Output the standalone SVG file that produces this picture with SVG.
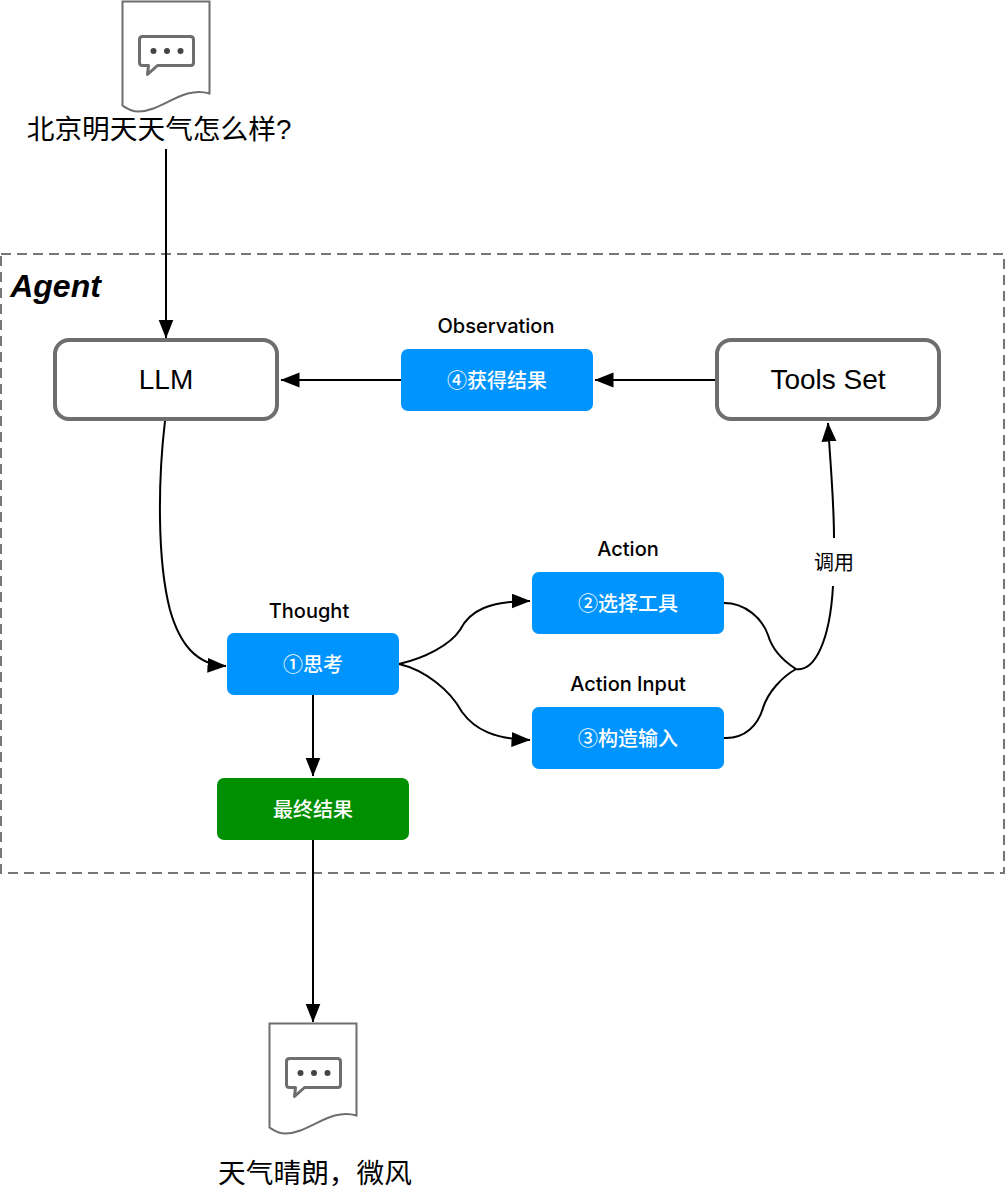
<svg xmlns="http://www.w3.org/2000/svg" width="1006" height="1194" viewBox="0 0 1006 1194">
<style>
text{font-family:"Liberation Sans","Noto Sans CJK SC",sans-serif;text-anchor:middle;fill:#000}
.big{font-size:27.700px}
.mid{font-size:28px}
.lab{font-family:Inter,"Liberation Sans",sans-serif;font-size:20px;font-weight:500}
.w{font-size:20px;fill:#fff;font-weight:500}
.c{fill:none;stroke:#000;stroke-width:2}
.n{fill:#fff;stroke:#6e6e6e;stroke-width:4}
.b{fill:#0094ff}
.doc{fill:#fff;stroke:#6e6e6e;stroke-width:2}
.ic{fill:none;stroke:#6e6e6e;stroke-width:3;stroke-linejoin:round}
.d{fill:#444}
</style>
<defs>
<marker id="a" markerUnits="userSpaceOnUse" markerWidth="20" markerHeight="16" refX="18.500" refY="7.500" orient="auto"><path d="M0 0L19 7.500L0 15z" fill="#000"/></marker>
<g id="docshape">
<path class="doc" d="M0 0H87V92C60 84 40 110 16 110C8 110 3 106 0 104Z"/>
<path class="ic" d="M20 35H68Q71 35 71 38V61Q71 64 68 64H35L25 73L26 64H20Q17 64 17 61V38Q17 35 20 35Z"/>
<circle class="d" cx="31" cy="49.500" r="3"/><circle class="d" cx="44.500" cy="49.500" r="3"/><circle class="d" cx="58" cy="49.500" r="3"/>
</g>
</defs>
<rect id="agent" x="1" y="254" width="1003" height="619" fill="none" stroke="#777" stroke-width="2" stroke-dasharray="10 6"/>
<text x="55.500" y="296.500" font-size="32" font-weight="bold" font-style="italic">Agent</text>
<g id="connectors">
<path class="c" marker-end="url(#a)" d="M166 149V338"/>
<path class="c" marker-end="url(#a)" d="M401 380H281"/>
<path class="c" marker-end="url(#a)" d="M716 380H595"/>
<path class="c" marker-end="url(#a)" d="M165 421C158 480 157 560 170 610C180 645 197 665 226 666"/>
<path class="c" marker-end="url(#a)" d="M399 664C425 658 450 645 460 630C470 610 490 601 530 601"/>
<path class="c" marker-end="url(#a)" d="M399 664C425 670 450 690 462 712C475 730 495 739 530 740"/>
<path class="c" marker-end="url(#a)" d="M313 695V776"/>
<path class="c" marker-end="url(#a)" d="M313 840V1022"/>
<path class="c" d="M724 603C745 603 762 618 768 635C773 652 785 662 796 669C815 672 830 640 833 586"/>
<path class="c" d="M724 738C745 739 758 725 763 708C768 692 782 677 796 669"/>
<path class="c" marker-end="url(#a)" d="M834 538C834 500 830 460 828 423"/>
</g>
<g id="doc-top"><use href="#docshape" x="122.500" y="1.500"/><text class="big" x="159" y="139">北京明天天气怎么样?</text></g>
<g id="llm"><rect class="n" x="55" y="340" width="222" height="79" rx="14"/><text class="mid" x="166" y="389">LLM</text></g>
<g id="tools"><rect class="n" x="717" y="340" width="222" height="79" rx="14"/><text class="mid" x="828" y="389">Tools Set</text></g>
<g id="observation"><text class="lab" x="496" y="333">Observation</text><rect class="b" x="401" y="349" width="192" height="62" rx="7"/><text class="w" x="497" y="388">④获得结果</text></g>
<g id="action"><text class="lab" x="628" y="556">Action</text><rect class="b" x="532" y="572" width="192" height="62" rx="7"/><text class="w" x="628" y="611">②选择工具</text></g>
<g id="action-input"><text class="lab" x="628" y="691">Action Input</text><rect class="b" x="532" y="707" width="192" height="62" rx="7"/><text class="w" x="628" y="746">③构造输入</text></g>
<g id="thought"><text class="lab" x="309" y="618">Thought</text><rect class="b" x="227" y="633" width="172" height="62" rx="7"/><text class="w" x="313" y="672">①思考</text></g>
<g id="final"><rect x="217" y="778" width="192" height="62" rx="7" fill="#008f00"/><text class="w" x="313" y="817">最终结果</text></g>
<text id="call" x="834" y="570" font-size="20">调用</text>
<g id="doc-bottom"><use href="#docshape" x="269.500" y="1023.500"/><text class="big" x="315" y="1183">天气晴朗，微风</text></g>
</svg>
